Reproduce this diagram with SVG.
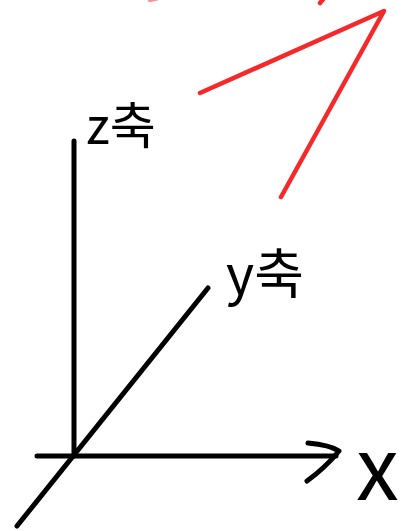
<svg xmlns="http://www.w3.org/2000/svg" width="408" height="531" viewBox="0 0 408 531">
<style>
.ax{stroke:#000;stroke-width:5;fill:none;stroke-linecap:round;stroke-linejoin:round}
.red{stroke:#f5282a;stroke-width:4.5;fill:none;stroke-linecap:round;stroke-linejoin:round}
.lbl{font-family:"Noto Sans CJK KR","Noto Sans",sans-serif;fill:#000}
</style>
<rect width="408" height="531" fill="#fff"/>
<g id="connectors">
<line class="ax" x1="74" y1="141" x2="74" y2="456"/>
<line class="ax" x1="37" y1="456" x2="336" y2="456"/>
<path class="ax" d="M308,443 Q330,445 339,451 Q325,468 307,481"/>
<line class="ax" x1="17" y1="526" x2="208" y2="288"/>
<polyline class="red" points="200,93 384,11 281,197"/>
<line class="red" x1="320" y1="3" x2="325" y2="-3"/>
<line class="red" x1="150" y1="0" x2="158" y2="-2" opacity="0.5"/>
</g>
<g id="z-label"><text class="lbl" x="86" y="144" font-size="50">z축</text></g>
<g id="y-label"><text class="lbl" x="226" y="294" font-size="54">y축</text></g>
<g id="x-label"><text class="lbl" x="356" y="500" font-size="86">x</text></g>
</svg>
